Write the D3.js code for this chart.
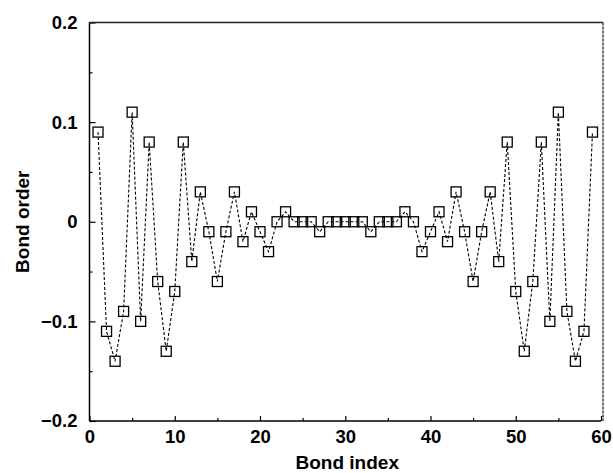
<!DOCTYPE html>
<html>
<head>
<meta charset="utf-8">
<script src="https://cdn.jsdelivr.net/npm/d3@7"></script>
<style>
  body { margin: 0; background: #fff; }
  .tick text { font-family: "Liberation Sans", Arial, sans-serif; font-weight: bold; font-size: 18.5px; fill: #000; }
  .axisTitle { font-family: "Liberation Sans", Arial, sans-serif; font-weight: bold; font-size: 19px; fill: #000; }
</style>
</head>
<body>
<div class="chart"></div>
<script>
// bond index 1..59, bond order
const bondIndex = d3.range(1, 60);
const bondOrder = [
   0.09, -0.11, -0.14, -0.09,  0.11, -0.10,  0.08, -0.06, -0.13, -0.07,
   0.08, -0.04,  0.03, -0.01, -0.06, -0.01,  0.03, -0.02,  0.01, -0.01,
  -0.03,  0.00,  0.01,  0.00,  0.00,  0.00, -0.01,  0.00,  0.00,  0.00,
   0.00,  0.00, -0.01,  0.00,  0.00,  0.00,  0.01,  0.00, -0.03, -0.01,
   0.01, -0.02,  0.03, -0.01, -0.06, -0.01,  0.03, -0.04,  0.08, -0.07,
  -0.13, -0.06,  0.08, -0.10,  0.11, -0.09, -0.14, -0.11,  0.09
];
const xTicks = [0, 10, 20, 30, 40, 50, 60];
const yTicks = [-0.2, -0.1, 0, 0.1, 0.2];

const svgWidth = 613, svgHeight = 473;
const margin = { top: 22.5, right: 12, bottom: 52, left: 89.5 };
const width = svgWidth - margin.left - margin.right;
const height = svgHeight - margin.top - margin.bottom;

const svg = d3.select(".chart").append("svg")
  .attr("width", svgWidth)
  .attr("height", svgHeight);

const g = svg.append("g")
  .attr("transform", `translate(${margin.left}, ${margin.top})`);

const x = d3.scaleLinear().domain([0, 60]).range([0, width]);
const y = d3.scaleLinear().domain([-0.2, 0.2]).range([height, 0]);

const yFmt = d => d === 0 ? "0" : d3.format(".1f")(d).replace("-", "\u2212");

// minor ticks
g.append("g")
  .attr("transform", `translate(0, ${height})`)
  .call(d3.axisTop(x).tickValues(d3.range(5, 60, 10)).tickSize(3).tickFormat(""))
  .call(a => a.select(".domain").remove());
g.append("g")
  .call(d3.axisRight(y).tickValues([-0.15, -0.05, 0.05, 0.15]).tickSize(3).tickFormat(""))
  .call(a => a.select(".domain").remove());

// major ticks, pointing inward
const xAxis = g.append("g")
  .attr("transform", `translate(0, ${height})`)
  .call(d3.axisBottom(x).tickValues(xTicks).tickSize(0).tickPadding(9));
xAxis.select(".domain").remove();
g.append("g")
  .attr("transform", `translate(0, ${height})`)
  .call(d3.axisTop(x).tickValues(xTicks).tickSize(5).tickFormat(""))
  .call(a => a.select(".domain").remove());

const yAxis = g.append("g")
  .call(d3.axisLeft(y).tickValues(yTicks).tickSize(0).tickPadding(12).tickFormat(yFmt));
yAxis.select(".domain").remove();
g.append("g")
  .call(d3.axisRight(y).tickValues(yTicks).tickSize(6).tickFormat(""))
  .call(a => a.select(".domain").remove());

g.selectAll(".tick line").attr("stroke", "#000").attr("stroke-width", 1.2);

// frame
g.append("line").attr("x1", 0).attr("x2", 0).attr("y1", 0).attr("y2", height)
  .attr("stroke", "#000").attr("stroke-width", 1.5);
g.append("line").attr("x1", 0).attr("x2", width).attr("y1", height).attr("y2", height)
  .attr("stroke", "#000").attr("stroke-width", 1.5);
g.append("line").attr("x1", 0).attr("x2", width + 2).attr("y1", 0).attr("y2", 0)
  .attr("stroke", "#222").attr("stroke-width", 1.5);
g.append("line").attr("x1", width + 2).attr("x2", width + 2).attr("y1", 0).attr("y2", height)
  .attr("stroke", "#222").attr("stroke-width", 1.3).attr("stroke-dasharray", "3,1");

const pts = bondIndex.map((b, i) => ({ b: b, v: bondOrder[i] }));

// dashed connecting line
g.append("path")
  .datum(pts)
  .attr("fill", "none")
  .attr("stroke", "#000")
  .attr("stroke-width", 1.1)
  .attr("stroke-dasharray", "3,2")
  .attr("d", d3.line().x(d => x(d.b)).y(d => y(d.v)));

// square markers
const s = 10;
g.selectAll("rect.pt")
  .data(pts)
  .enter()
  .append("rect")
  .attr("class", "pt")
  .attr("x", d => x(d.b) - s / 2)
  .attr("y", d => y(d.v) - s / 2)
  .attr("width", s)
  .attr("height", s)
  .attr("fill", "#fff")
  .attr("fill-opacity", 0)
  .attr("stroke", "#000")
  .attr("stroke-width", 1.3);

// axis titles
g.append("text")
  .attr("class", "axisTitle")
  .attr("text-anchor", "middle")
  .attr("x", width / 2 + 2)
  .attr("y", height + 48)
  .text("Bond index");

g.append("text")
  .attr("class", "axisTitle")
  .attr("text-anchor", "middle")
  .attr("transform", `translate(${-61}, ${height / 2}) rotate(-90)`)
  .text("Bond order");
</script>
</body>
</html>
